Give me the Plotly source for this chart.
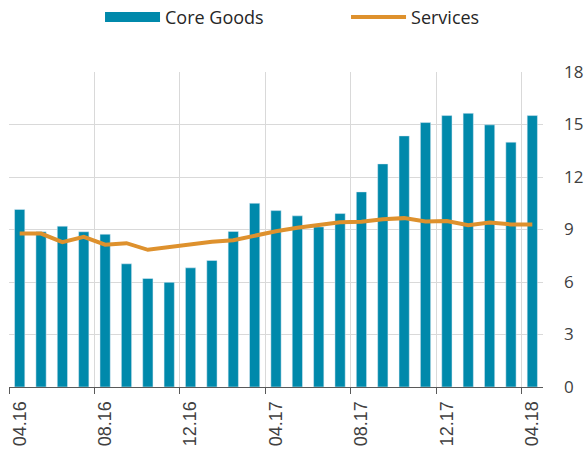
import plotly.graph_objects as go

months = ["04.16", "05.16", "06.16", "07.16", "08.16", "09.16", "10.16", "11.16",
          "12.16", "01.17", "02.17", "03.17", "04.17", "05.17", "06.17", "07.17",
          "08.17", "09.17", "10.17", "11.17", "12.17", "01.18", "02.18", "03.18", "04.18"]
core_goods = [10.15, 8.87, 9.19, 8.87, 8.73, 7.04, 6.20, 5.98, 6.81, 7.23, 8.89, 10.50, 10.08,
              9.78, 9.15, 9.91, 11.15, 12.75, 14.35, 15.11, 15.51, 15.64, 14.98, 13.99, 15.51]
services = [8.77, 8.77, 8.28, 8.58, 8.13, 8.22, 7.84, 7.99, 8.14, 8.30, 8.39, 8.66, 8.90,
            9.10, 9.25, 9.42, 9.44, 9.59, 9.65, 9.46, 9.48, 9.25, 9.40, 9.29, 9.29]
label_months = months[::4]
y_ticks = [0, 3, 6, 9, 12, 15, 18]

BAR = "#0089AB"
LINE = "#DE912D"
GRID = "#D9D9D9"
AXIS = "#595959"
TXT = "#404040"

xs = list(range(len(months)))
label_pos = [months.index(m) for m in label_months]
bounds = [p - 0.5 for p in label_pos]

fig = go.Figure()
fig.add_trace(go.Bar(x=xs, y=core_goods, marker_color=BAR, width=0.48,
                     showlegend=False, name="Core Goods", hoverinfo="y"))
# legend proxy for the bar series (wide swatch like the reference)
fig.add_trace(go.Scatter(x=[None], y=[None], mode="lines", name="Core Goods",
                         line=dict(color=BAR, width=12)))
fig.add_trace(go.Scatter(x=xs, y=services, mode="lines", name="Services",
                         line=dict(color=LINE, width=4), xaxis="x2"))

xr = [-0.5, len(months) - 0.5]
fig.update_layout(
    width=587, height=454,
    margin=dict(l=9, r=44, t=72, b=67, autoexpand=False),
    plot_bgcolor="white", paper_bgcolor="white",
    font=dict(family="Open Sans", color=TXT),
    showlegend=True,
    legend=dict(orientation="h", xref="container", yref="container",
                x=0.1704, y=0.962, xanchor="left", yanchor="middle",
                font=dict(family="Open Sans", size=18, color="#262626"),
                itemwidth=55, entrywidth=176, entrywidthmode="pixels",
                traceorder="normal", bgcolor="rgba(0,0,0,0)"),
    xaxis=dict(range=xr, tickvals=label_pos, ticktext=label_months, tickangle=-90,
               showgrid=False, zeroline=False, showline=True, linecolor=AXIS, linewidth=1,
               ticks="outside", ticklen=6, tickcolor="rgba(0,0,0,0)", automargin=False,
               tickfont=dict(family="Liberation Sans", size=18, color=TXT)),
    xaxis2=dict(range=xr, overlaying="x", anchor="y", side="bottom",
                tickvals=bounds, showticklabels=False, showgrid=True, gridcolor=GRID,
                gridwidth=1, zeroline=False, showline=False, automargin=False,
                ticks="outside", ticklen=6, tickcolor=AXIS),
    yaxis=dict(range=[0, 18], side="right", tickvals=y_ticks, showgrid=True,
               gridcolor=GRID, gridwidth=1, zeroline=False, ticks="",
               ticklabelstandoff=20, automargin=False,
               tickfont=dict(family="Open Sans", size=17, color=TXT)),
)
fig.write_html("out.html", config={"displayModeBar": False},
               post_script="document.body.style.margin='0';")
